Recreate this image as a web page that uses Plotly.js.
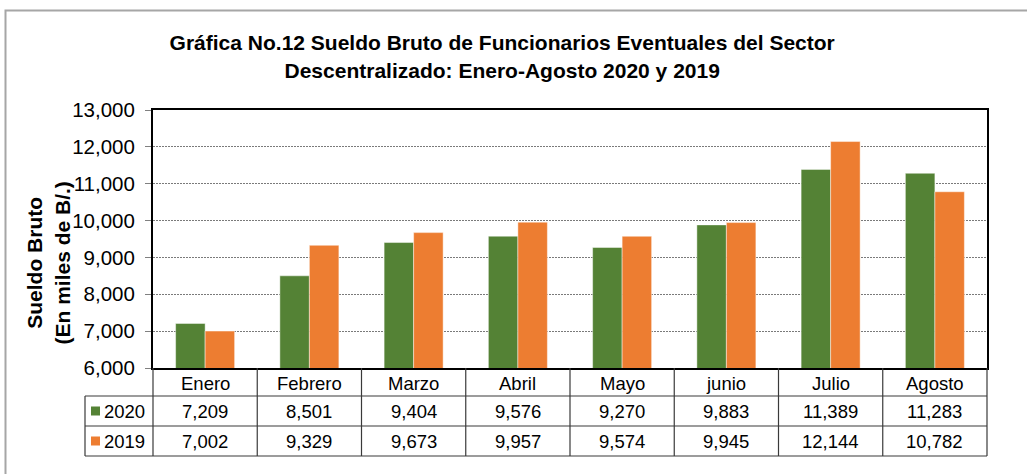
<!DOCTYPE html>
<html>
<head>
<meta charset="utf-8">
<script src="https://cdn.plot.ly/plotly-3.0.1.min.js"></script>
<style>
  html, body { margin: 0; padding: 0; background: #ffffff; }
  #chart { width: 1027px; height: 474px; }
</style>
</head>
<body>
<div id="chart"></div>
<script>
// ---- Data ----
const categories = ["Enero", "Febrero", "Marzo", "Abril", "Mayo", "junio", "Julio", "Agosto"];
const seriesNames = ["2020", "2019"];
const values2020 = [7209, 8501, 9404, 9576, 9270, 9883, 11389, 11283];
const values2019 = [7002, 9329, 9673, 9957, 9574, 9945, 12144, 10782];
const yTickValues = [6000, 7000, 8000, 9000, 10000, 11000, 12000, 13000];
const titleLines = ["Gráfica No.12 Sueldo Bruto de Funcionarios Eventuales del Sector", "Descentralizado: Enero-Agosto 2020 y 2019"];
const yTitleLines = ["Sueldo Bruto", "(En miles de B/.)"];

// ---- Style / layout constants ----
const colors = ["#548235", "#ED7D31"];
const FONT = "Liberation Sans, Arial, sans-serif";
const W = 1027, H = 474;
const M = { l: 153, r: 40, t: 110, b: 106 };
const lineCol = "#3a3a3a";
const headerH = 28, rowH = 30;          // table row heights in px
const keyColW = 68;                      // legend-key column width in px

const fmt = v => v.toLocaleString("en-US");

const traces = [values2020, values2019].map((vals, i) => ({
  type: "bar",
  name: seriesNames[i],
  x: categories,
  y: vals,
  marker: { color: colors[i], line: { color: "rgba(255,255,255,0.45)", width: 1 } },
  hoverinfo: "x+y+name"
}));

const annotations = [];
const shapes = [];

// Header row: category names
categories.forEach(c => {
  annotations.push({
    xref: "x", yref: "paper", x: c, y: 0, yshift: -headerH / 2 - 1,
    xanchor: "center", yanchor: "middle", showarrow: false,
    text: c, font: { family: FONT, size: 18.5, color: "#000" }
  });
});
// Value rows
[values2020, values2019].forEach((vals, r) => {
  const yc = -(headerH + rowH * r + rowH / 2);
  vals.forEach((v, i) => {
    annotations.push({
      xref: "x", yref: "paper", x: categories[i], y: 0, yshift: yc,
      xanchor: "center", yanchor: "middle", showarrow: false,
      text: fmt(v), font: { family: FONT, size: 18.5, color: "#000" }
    });
  });
  // series label in key column
  annotations.push({
    xref: "paper", yref: "paper", x: 0, y: 0, xshift: -6, yshift: yc,
    xanchor: "right", yanchor: "middle", showarrow: false,
    text: seriesNames[r], font: { family: FONT, size: 18.5, color: "#000" }
  });
  // key square
  shapes.push({
    type: "rect", xref: "paper", yref: "paper",
    xsizemode: "pixel", ysizemode: "pixel", xanchor: 0, yanchor: 0,
    x0: -62, x1: -53, y0: yc + 4.5, y1: yc - 4.5,
    fillcolor: colors[r], line: { width: 0 }
  });
});

// Table horizontal lines
const plotW = W - M.l - M.r;
[headerH, headerH + rowH, headerH + 2 * rowH].forEach(off => {
  shapes.push({
    type: "line", xref: "paper", yref: "paper",
    xsizemode: "pixel", ysizemode: "pixel", xanchor: 0, yanchor: 0,
    x0: -keyColW, x1: plotW, y0: -off, y1: -off,
    line: { color: lineCol, width: 1.2 }
  });
});
// Table vertical lines: category boundaries
for (let i = 0; i < categories.length - 1; i++) {
  shapes.push({
    type: "line", xref: "x", yref: "paper", ysizemode: "pixel", yanchor: 0,
    x0: i + 0.5, x1: i + 0.5, y0: 0, y1: -(headerH + 2 * rowH),
    line: { color: lineCol, width: 1.2 }
  });
}
// Table outer verticals
[0, 1].forEach(px => {
  shapes.push({
    type: "line", xref: "paper", yref: "paper", ysizemode: "pixel", yanchor: 0,
    x0: px, x1: px, y0: 0, y1: -(headerH + 2 * rowH),
    line: { color: lineCol, width: 1.2 }
  });
});
shapes.push({
  type: "line", xref: "paper", yref: "paper",
  xsizemode: "pixel", ysizemode: "pixel", xanchor: 0, yanchor: 0,
  x0: -keyColW, x1: -keyColW, y0: -headerH, y1: -(headerH + 2 * rowH),
  line: { color: lineCol, width: 1.2 }
});

// Outer chart frame (extends beyond right/bottom of view)
shapes.push({
  type: "rect", xref: "paper", yref: "paper",
  xsizemode: "pixel", ysizemode: "pixel", xanchor: 0, yanchor: 0,
  x0: -(M.l - 5.5), x1: plotW + 60, y0: M.t - 10.5 + (H - M.t - M.b), y1: -(M.b + 30),
  line: { color: "#a6a6a6", width: 2 }, fillcolor: "rgba(0,0,0,0)", layer: "below"
});

// Y axis title
annotations.push({
  xref: "paper", yref: "paper", x: 0, y: 0.405, xshift: -105,
  xanchor: "center", yanchor: "middle", showarrow: false, textangle: -90,
  text: yTitleLines.map(t => "<b>" + t + "</b>").join("<br>"),
  font: { family: FONT, size: 21, color: "#000" }
});

const layout = {
  width: W, height: H,
  margin: M,
  paper_bgcolor: "#ffffff",
  plot_bgcolor: "#ffffff",
  showlegend: false,
  barmode: "group",
  bargap: 0.434,
  bargroupgap: 0,
  title: {
    text: titleLines.map(t => "<b>" + t + "</b>").join("<br>"),
    x: 0.489, xanchor: "center", xref: "container",
    y: 0.894, yanchor: "middle", yref: "container",
    font: { family: FONT, size: 21, color: "#000" }
  },
  xaxis: {
    type: "category",
    showticklabels: false,
    ticks: "",
    showgrid: false,
    showline: true, mirror: true, linecolor: "#000", linewidth: 2,
    range: [-0.5, categories.length - 0.5],
    zeroline: false
  },
  yaxis: {
    range: [6000, 13000],
    tickvals: yTickValues,
    tickformat: ",d",
    ticks: "outside", ticklen: 6, tickcolor: "#808080", tickwidth: 1,
    ticklabelstandoff: 6,
    tickfont: { family: FONT, size: 20.5, color: "#000" },
    showgrid: true, gridcolor: "#7a7a7a", gridwidth: 1, griddash: "2px,1px",
    showline: true, mirror: true, linecolor: "#000", linewidth: 2,
    zeroline: false
  },
  annotations: annotations,
  shapes: shapes
};

Plotly.newPlot("chart", traces, layout, { displayModeBar: false, staticPlot: true });
</script>
</body>
</html>
